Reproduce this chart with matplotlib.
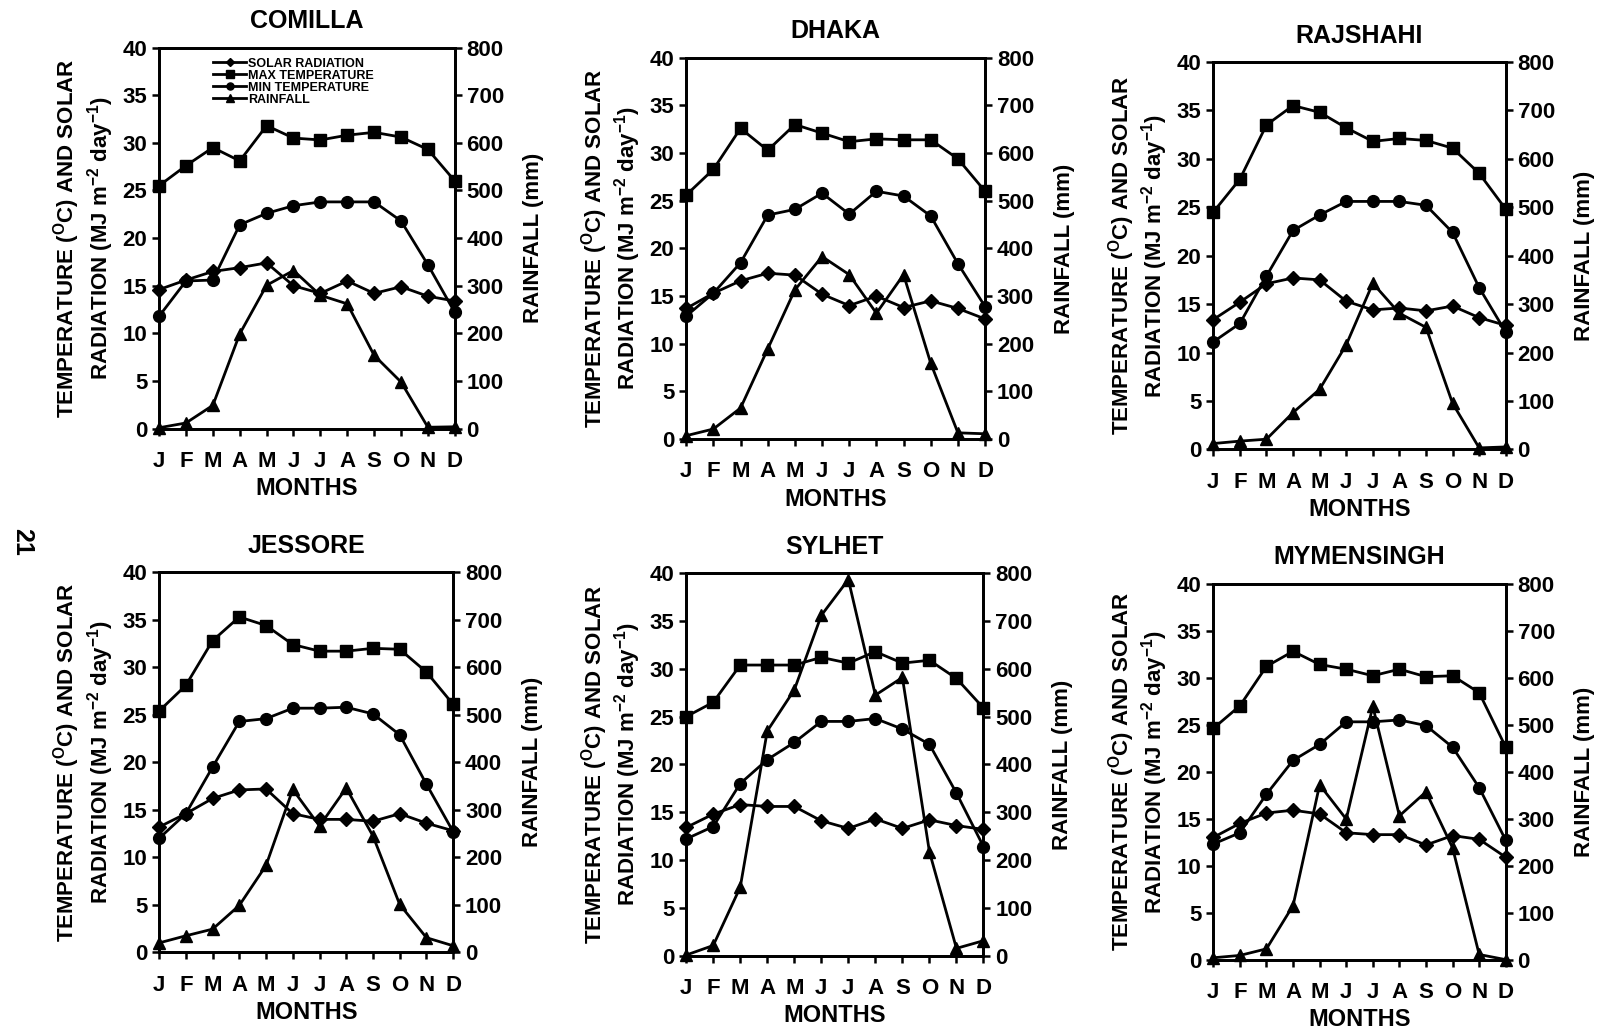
import matplotlib.pyplot as plt
import numpy as np

plt.rcParams['font.family'] = ['Liberation Sans', 'DejaVu Sans']
plt.rcParams['font.weight'] = 'bold'
plt.rcParams['axes.labelweight'] = 'bold'
plt.rcParams['axes.titleweight'] = 'bold'
plt.rcParams['mathtext.fontset'] = 'custom'
plt.rcParams['mathtext.rm'] = 'Liberation Sans:bold'
plt.rcParams['mathtext.it'] = 'Liberation Sans:bold:italic'
plt.rcParams['mathtext.bf'] = 'Liberation Sans:bold'

months = ['J', 'F', 'M', 'A', 'M', 'J', 'J', 'A', 'S', 'O', 'N', 'D']

# solar radiation (MJ m-2 day-1), max/min temperature (C), rainfall (mm)
comilla_solar = [14.6, 15.6, 16.5, 16.9, 17.4, 15.0, 14.2, 15.5, 14.2, 14.9, 13.9, 13.4]
comilla_tmax = [25.5, 27.6, 29.5, 28.1, 31.8, 30.5, 30.3, 30.8, 31.1, 30.6, 29.3, 26.0]
comilla_tmin = [11.8, 15.5, 15.6, 21.4, 22.6, 23.4, 23.8, 23.8, 23.8, 21.8, 17.2, 12.2]
comilla_rain = [2, 12, 49, 199, 301, 332, 280, 262, 154, 98, 3, 4]

dhaka_solar = [13.7, 15.3, 16.6, 17.4, 17.2, 15.2, 14.0, 15.0, 13.8, 14.5, 13.7, 12.6]
dhaka_tmax = [25.6, 28.3, 32.6, 30.3, 33.0, 32.1, 31.2, 31.5, 31.4, 31.4, 29.4, 26.0]
dhaka_tmin = [12.9, 15.3, 18.5, 23.5, 24.1, 25.8, 23.6, 26.0, 25.5, 23.4, 18.4, 13.9]
dhaka_rain = [7, 21, 65, 189, 313, 383, 345, 264, 345, 159, 13, 11]

rajshahi_solar = [13.4, 15.2, 17.1, 17.7, 17.5, 15.3, 14.4, 14.6, 14.3, 14.8, 13.6, 12.8]
rajshahi_tmax = [24.5, 27.9, 33.5, 35.5, 34.8, 33.2, 31.8, 32.1, 31.9, 31.1, 28.5, 24.8]
rajshahi_tmin = [11.1, 13.0, 17.9, 22.6, 24.2, 25.6, 25.6, 25.6, 25.2, 22.4, 16.7, 12.1]
rajshahi_rain = [12, 17, 21, 76, 124, 216, 343, 281, 252, 95, 3, 5]

jessore_solar = [13.2, 14.6, 16.2, 17.1, 17.2, 14.6, 14.0, 14.0, 13.8, 14.6, 13.6, 12.8]
jessore_tmax = [25.4, 28.1, 32.8, 35.3, 34.4, 32.4, 31.7, 31.7, 32.0, 31.9, 29.5, 26.1]
jessore_tmin = [12.0, 14.6, 19.5, 24.3, 24.6, 25.7, 25.7, 25.8, 25.1, 22.9, 17.7, 12.7]
jessore_rain = [20, 35, 49, 99, 183, 343, 266, 346, 245, 101, 31, 14]

sylhet_solar = [13.4, 14.8, 15.8, 15.6, 15.6, 14.1, 13.3, 14.3, 13.3, 14.2, 13.6, 13.2]
sylhet_tmax = [25.0, 26.5, 30.4, 30.4, 30.4, 31.2, 30.6, 31.8, 30.6, 30.9, 29.0, 25.9]
sylhet_tmin = [12.2, 13.5, 18.0, 20.5, 22.3, 24.5, 24.5, 24.8, 23.7, 22.1, 17.0, 11.4]
sylhet_rain = [1, 21, 143, 470, 556, 712, 787, 545, 582, 217, 15, 31]

mymensingh_solar = [13.0, 14.5, 15.6, 15.9, 15.5, 13.5, 13.3, 13.3, 12.2, 13.2, 12.8, 10.9]
mymensingh_tmax = [24.6, 27.0, 31.2, 32.8, 31.4, 30.9, 30.2, 30.9, 30.1, 30.2, 28.4, 22.6]
mymensingh_tmin = [12.3, 13.5, 17.6, 21.2, 22.9, 25.3, 25.3, 25.5, 24.9, 22.6, 18.3, 12.7]
mymensingh_rain = [4, 9, 23, 115, 372, 299, 539, 306, 357, 238, 11, 0]

stations = ['COMILLA', 'DHAKA', 'RAJSHAHI', 'JESSORE', 'SYLHET', 'MYMENSINGH']
solar = [comilla_solar, dhaka_solar, rajshahi_solar, jessore_solar, sylhet_solar, mymensingh_solar]
tmax = [comilla_tmax, dhaka_tmax, rajshahi_tmax, jessore_tmax, sylhet_tmax, mymensingh_tmax]
tmin = [comilla_tmin, dhaka_tmin, rajshahi_tmin, jessore_tmin, sylhet_tmin, mymensingh_tmin]
rain = [comilla_rain, dhaka_rain, rajshahi_rain, jessore_rain, sylhet_rain, mymensingh_rain]

# axes boxes in figure fractions [left, bottom, width, height]
boxes = [
    [0.099, 0.585, 0.184, 0.369],
    [0.427, 0.575, 0.186, 0.369],
    [0.755, 0.565, 0.182, 0.375],
    [0.099, 0.078, 0.183, 0.368],
    [0.427, 0.075, 0.185, 0.370],
    [0.755, 0.071, 0.182, 0.364],
]

fig = plt.figure(figsize=(16.07, 10.33), dpi=100)
x = np.arange(12)
lw = 2.0

for i, name in enumerate(stations):
    ax = fig.add_axes(boxes[i])
    ax2 = ax.twinx()

    ax.plot(x, solar[i], color='black', lw=lw, marker='D', ms=7, label='SOLAR RADIATION', clip_on=False, zorder=3)
    ax.plot(x, tmax[i], color='black', lw=lw, marker='s', ms=8.5, label='MAX TEMPERATURE', clip_on=False, zorder=3)
    ax.plot(x, tmin[i], color='black', lw=lw, marker='o', ms=8.5, label='MIN TEMPERATURE', clip_on=False, zorder=3)
    ax2.plot(x, rain[i], color='black', lw=lw, marker='^', ms=8.5, label='RAINFALL', clip_on=False, zorder=3)

    ax.set_xlim(0, 11)
    ax.set_ylim(0, 40)
    ax2.set_ylim(0, 800)
    ax.set_xticks(x)
    ax.set_xticklabels(months)
    ax.set_yticks(np.arange(0, 41, 5))
    ax2.set_yticks(np.arange(0, 801, 100))

    for a in (ax, ax2):
        for s in a.spines.values():
            s.set_linewidth(2)
        a.tick_params(direction='out', length=5, width=1.8, labelsize=16)
    ax.tick_params(axis='x', pad=11, labelsize=16)

    ax.set_title(name, fontsize=18, fontweight='bold', pad=14)
    ax.set_xlabel('MONTHS', fontsize=17, labelpad=4)
    ax.set_ylabel('TEMPERATURE ($^{\\mathrm{O}}$C) AND SOLAR\n'
                  'RADIATION (MJ m$^{-2}$ day$^{-1}$)', fontsize=16, labelpad=5, linespacing=1.1)
    ax2.set_ylabel('RAINFALL (mm)', fontsize=16, labelpad=14)

    if i == 0:
        h1, l1 = ax.get_legend_handles_labels()
        h2, l2 = ax2.get_legend_handles_labels()
        leg = ax2.legend(h1 + h2, l1 + l2, loc='upper left', bbox_to_anchor=(0.15, 1.0),
                         frameon=False, handlelength=2.6, handletextpad=0.15,
                         labelspacing=0.0, markerscale=0.6, borderpad=0.3,
                         prop={'weight': 'bold', 'size': 9})

fig.text(0.014, 0.475, '21', rotation=-90, fontsize=18, ha='center', va='center')

fig.savefig('out.png', dpi=100)
